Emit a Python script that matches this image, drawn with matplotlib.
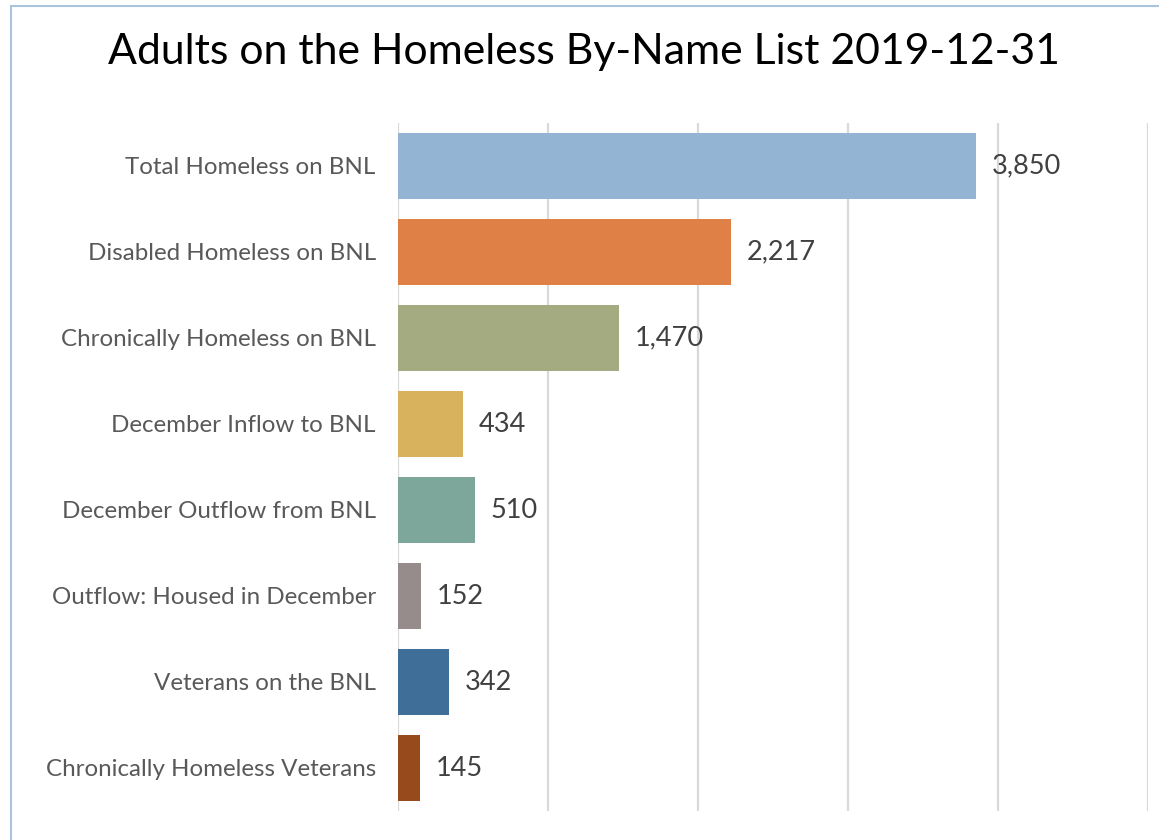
import matplotlib.pyplot as plt
from matplotlib.patches import Rectangle

categories = ["Total Homeless on BNL", "Disabled Homeless on BNL",
              "Chronically Homeless on BNL", "December Inflow to BNL",
              "December Outflow from BNL", "Outflow: Housed in December",
              "Veterans on the BNL", "Chronically Homeless Veterans"]
values = [3850, 2217, 1470, 434, 510, 152, 342, 145]
colors = ["#93B4D2", "#DF8047", "#A5AB80", "#D8B25C",
          "#7DA79A", "#968C8B", "#3F6F98", "#974A1C"]

plt.rcParams['font.family'] = ['Lato', 'DejaVu Sans']

fig = plt.figure(figsize=(11.59, 8.40), dpi=100)
ax = fig.add_axes([398/1159, 1-811/840, 750/1159, (811-123)/840])

y_pos = list(range(len(categories)))
ax.barh(y_pos, values, height=0.76, color=colors, zorder=3)
ax.set_xlim(0, 5000)
ax.set_ylim(len(categories)-0.5, -0.5)
ax.set_xticks([0, 1000, 2000, 3000, 4000, 5000])
ax.xaxis.grid(True, color="#D9D9D9", linewidth=1.6, zorder=0)
ax.tick_params(axis='x', length=0, labelbottom=False)
ax.set_yticks(y_pos)
ax.set_yticklabels(categories, fontsize=17.4, color="#595959")
ax.tick_params(axis='y', length=0, pad=16)
for s in ax.spines.values():
    s.set_visible(False)

for y, v in zip(y_pos, values):
    ax.annotate(f"{v:,}", (v, y), xytext=(11.5, 0), textcoords="offset points",
                va="center", ha="left", fontsize=19.5, color="#404040")

fig.text(584/1159, 1-52/840, "Adults on the Homeless By-Name List 2019-12-31",
         ha="center", va="center", fontsize=30.8, color="black")

fig.patches.append(Rectangle((11/1159, -0.1), 1.2, 1-6/840+0.1,
                             transform=fig.transFigure, fill=False,
                             edgecolor="#A9C4DE", linewidth=1.5))

fig.savefig("out.png", dpi=100)
